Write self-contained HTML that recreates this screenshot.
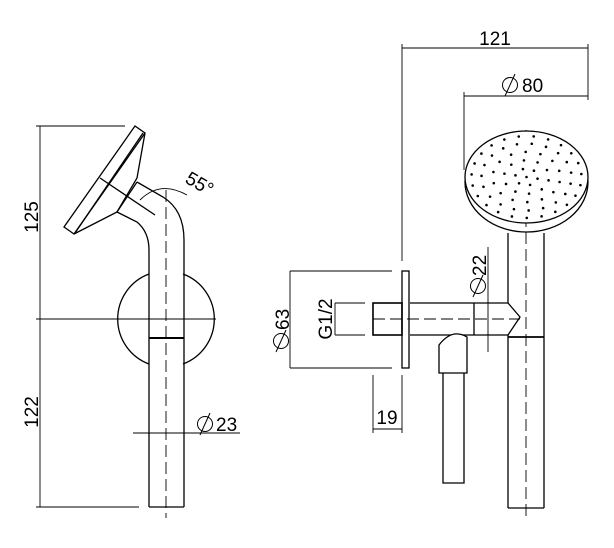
<!DOCTYPE html>
<html><head><meta charset="utf-8"><style>
html,body{margin:0;padding:0;background:#fff}
svg{display:block}
text{font-family:"Liberation Sans",sans-serif;font-size:19px;fill:#000}
</style></head><body>
<svg id="s" width="614" height="548" viewBox="0 0 614 548" xmlns="http://www.w3.org/2000/svg">
<defs>
<g id="phi" fill="none" stroke="#000" stroke-width="1"><circle cx="0" cy="0" r="7.5"/><line x1="-5" y1="11" x2="5" y2="-11"/></g>
</defs>
<g fill="none" stroke="#000" stroke-width="1.3">
<g stroke-width="0.9">
<line x1="40" y1="126" x2="40" y2="507"/>
<line x1="36" y1="126" x2="125" y2="126"/>
<line x1="36" y1="507" x2="139" y2="507"/>
<line x1="36" y1="319" x2="216" y2="319"/>
<line x1="133" y1="433" x2="240" y2="433"/>
<line x1="166" y1="190" x2="166" y2="518" stroke-dasharray="12,5"/>
</g>
<path d="M149 274 A48 48 0 0 0 149 364"/>
<path d="M183 274 A48 48 0 0 1 183 364"/>
<line x1="149" y1="250" x2="149" y2="507"/>
<line x1="184" y1="240" x2="184" y2="507"/>
<line x1="149" y1="507" x2="184" y2="507"/>
<line x1="149" y1="338" x2="184" y2="338" stroke-width="2"/>
<path d="M117 212 L137 222 Q149 232 149 250"/>
<path d="M137 182 L163 197 Q184 210 184 240"/>
<path d="M135 126 L145 133 L74 234 L64 227 Z"/>
<line x1="143" y1="133" x2="75" y2="233"/>
<path d="M145 133 L137 178 L117 212 L74 234"/>
<line x1="100" y1="178" x2="155" y2="215"/>
<line x1="137" y1="182" x2="117" y2="212"/>
<path d="M140 200 Q160 180 187 195" stroke-width="0.9"/>
<g stroke-width="0.9">
<line x1="402" y1="48" x2="588" y2="48"/>
<line x1="402" y1="44" x2="402" y2="261"/>
<line x1="588" y1="44" x2="588" y2="100"/>
<line x1="464" y1="96" x2="588" y2="96"/>
<line x1="464" y1="92" x2="464" y2="170"/>
<line x1="290" y1="271" x2="290" y2="368"/>
<line x1="290" y1="271" x2="392" y2="271"/>
<line x1="290" y1="368" x2="392" y2="368"/>
<line x1="335" y1="303" x2="335" y2="335"/>
<line x1="335" y1="303" x2="365" y2="303"/>
<line x1="335" y1="335" x2="365" y2="335"/>
<line x1="373" y1="375" x2="373" y2="433"/>
<line x1="402" y1="375" x2="402" y2="433"/>
<line x1="373" y1="429" x2="402" y2="429"/>
<line x1="488" y1="247" x2="488" y2="352"/>
<line x1="526" y1="130" x2="526" y2="520" stroke-dasharray="12,5"/>
<line x1="373" y1="319" x2="520" y2="319" stroke-dasharray="12,5"/>
</g>
<ellipse cx="526.5" cy="182" rx="61.5" ry="50"/>
<ellipse cx="526.5" cy="177" rx="61.5" ry="46" fill="#fff"/>
<g id="dots" fill="#000" stroke="none"></g>
<line x1="508" y1="233" x2="508" y2="303"/>
<line x1="508" y1="335" x2="508" y2="508"/>
<line x1="544" y1="233" x2="544" y2="508"/>
<line x1="508" y1="508" x2="544" y2="508"/>
<line x1="508" y1="337" x2="544" y2="337" stroke-width="1.8"/>
<path d="M410 303 L508 303 L520 317 L508 335 L410 335"/>
<line x1="474" y1="303" x2="474" y2="335"/>
<rect x="402" y="271" width="7" height="97"/>
<rect x="373" y="303" width="29" height="32" stroke-width="1.6"/>
<path d="M439 373 L439 345 Q452 328 467 337 L467 373 Z" fill="#fff"/>
<path d="M443 373 L443 483 L464 483 L464 373"/>
</g>
<text transform="translate(38,217) rotate(-90)" text-anchor="middle">125</text>
<text transform="translate(38,412) rotate(-90)" text-anchor="middle">122</text>
<use href="#phi" x="205" y="424"/>
<text x="216" y="431">23</text>
<text transform="translate(184,182) rotate(30)">55°</text>
<text x="495" y="45" text-anchor="middle">121</text>
<use href="#phi" x="510" y="85"/>
<text x="522" y="92">80</text>
<use href="#phi" x="478" y="286"/>
<text transform="translate(486,276) rotate(-90)">22</text>
<text transform="translate(332,319) rotate(-90)" text-anchor="middle">G1/2</text>
<use href="#phi" x="281" y="341"/>
<text transform="translate(289,330) rotate(-90)">63</text>
<text x="387" y="424" text-anchor="middle">19</text>
</svg>
<script>
var g=document.getElementById('dots'),ns='http://www.w3.org/2000/svg';
var cx=526.5,cy=177;
var rings=[[0,1],[9,6],[18,10],[27,14],[36,19],[44,23]];
rings.forEach(function(r){for(var i=0;i<r[1];i++){var a=2*Math.PI*i/r[1]+0.2;var x=cx+r[0]*1.25*Math.cos(a),y=cy+r[0]*0.93*Math.sin(a);var c=document.createElementNS(ns,'circle');c.setAttribute('cx',x);c.setAttribute('cy',y);c.setAttribute('r',1.3);g.appendChild(c);}});
</script>
</body></html>
